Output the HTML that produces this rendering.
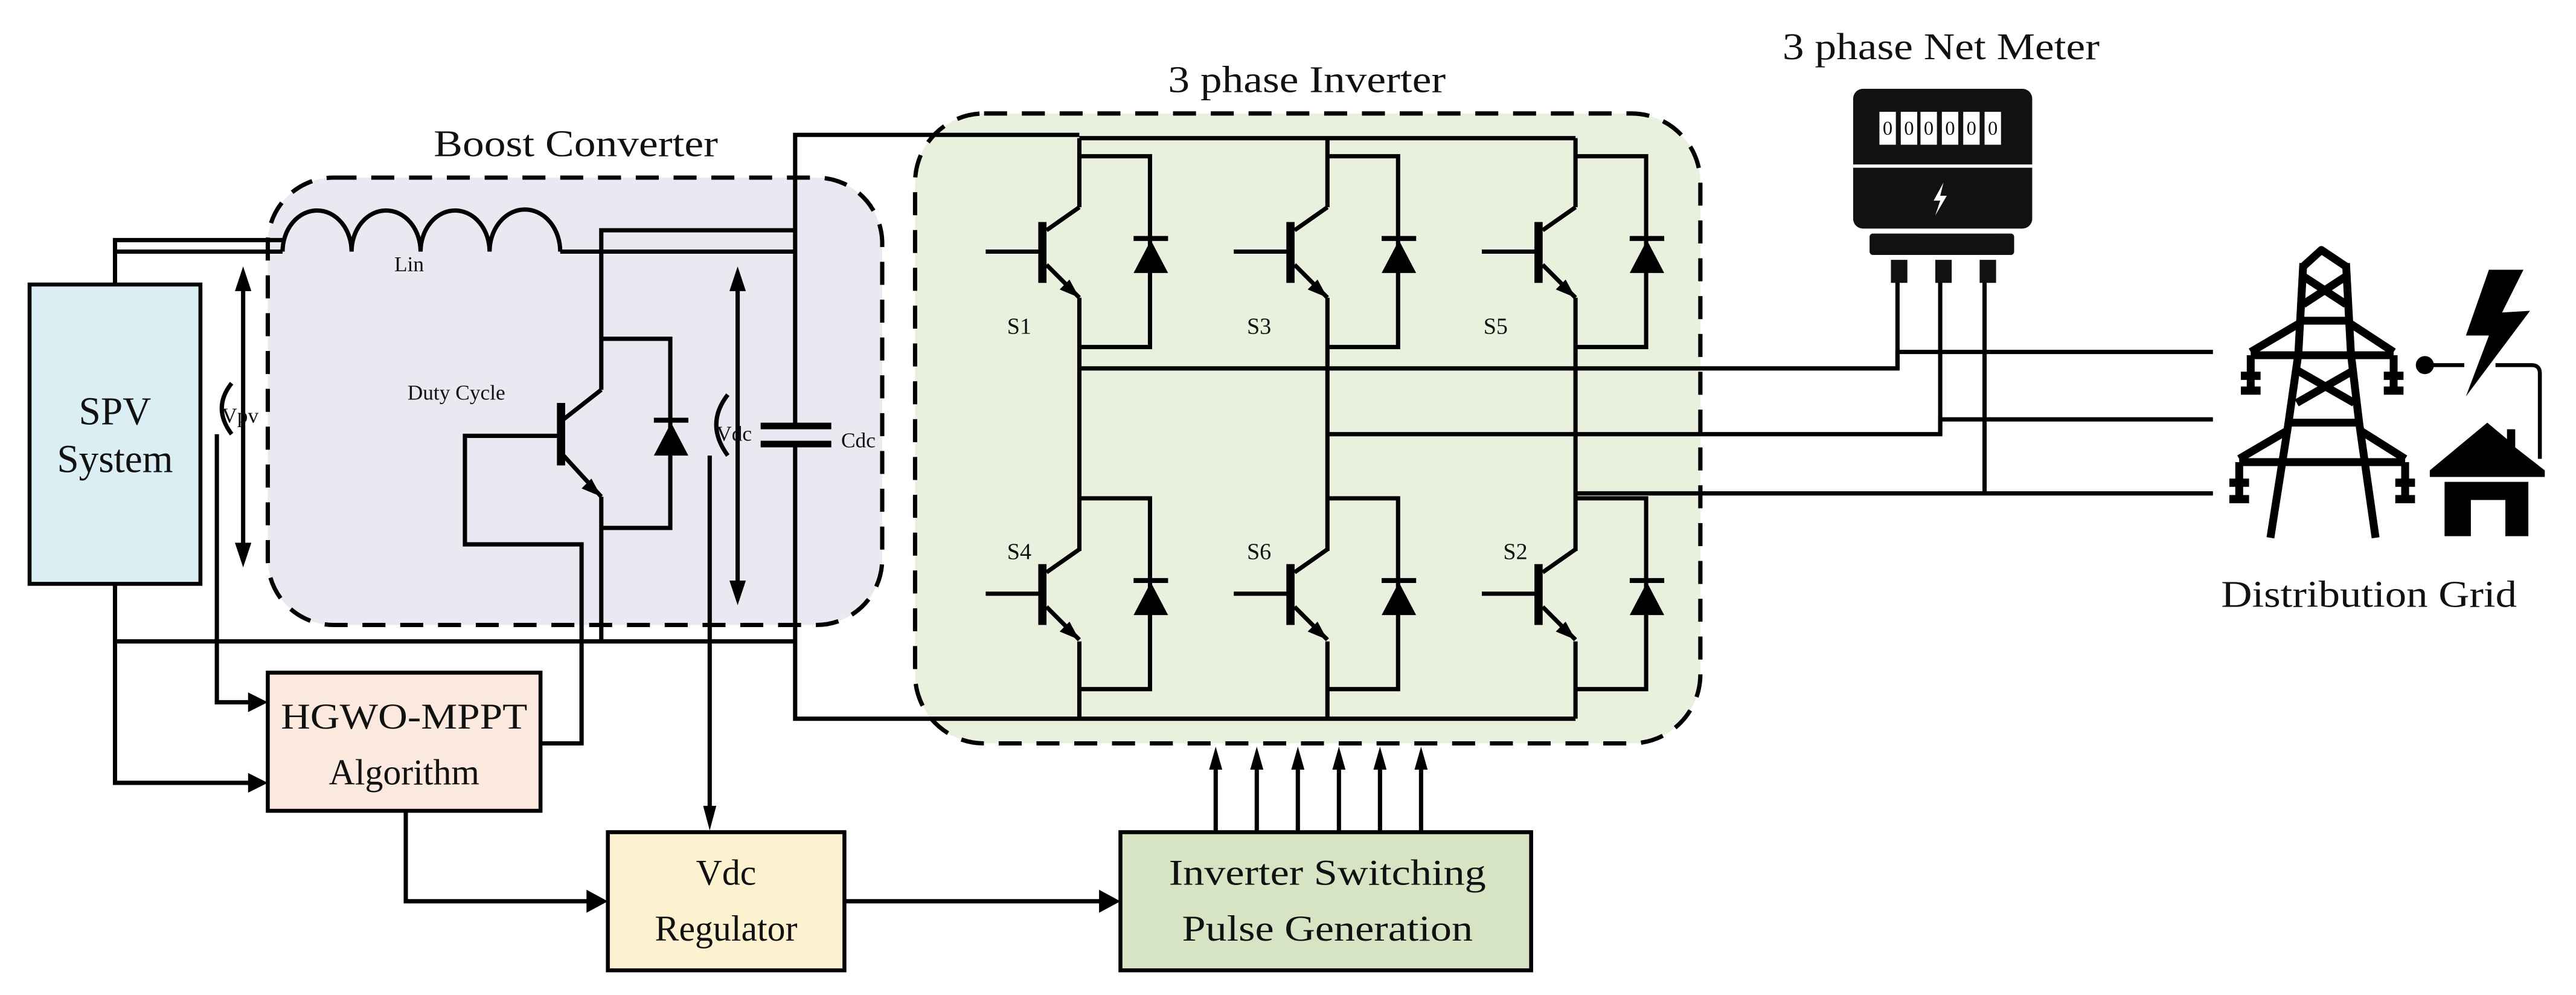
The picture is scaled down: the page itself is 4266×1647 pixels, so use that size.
<!DOCTYPE html>
<html><head><meta charset="utf-8"><style>
html,body{margin:0;padding:0;background:#fff;}
svg{display:block;}
text{font-family:"Liberation Serif",serif;fill:#111;}
</style></head><body>
<svg width="4266" height="1647" viewBox="0 0 1568 605" preserveAspectRatio="none" xmlns="http://www.w3.org/2000/svg">
<defs>
<g id="sw" fill="none" stroke="#000" stroke-width="2.6">
  <line x1="-20" y1="-13" x2="0" y2="-27"/>
  <rect x="-25" y="-18" width="5" height="37" fill="#000" stroke="none"/>
  <line x1="-57" y1="0" x2="-23" y2="0"/>
  <line x1="-20" y1="8" x2="0" y2="28"/>
  <polygon points="0,28 -12,23 -6,17" fill="#000" stroke="none"/>
  <polyline points="0,-58 43,-58 43,58 0,58"/>
  <line x1="33" y1="-8" x2="54" y2="-8" stroke-width="3"/>
  <polygon points="33,13 54,13 43.5,-7" fill="#000" stroke="none"/>
</g>
</defs>

<rect x="163" y="108" width="374" height="272" rx="40" fill="#ebe8f2" stroke="#000" stroke-width="2.6" stroke-dasharray="14 9"/>
<rect x="557" y="69" width="478" height="383" rx="42" fill="#e9f0de" stroke="#000" stroke-width="2.6" stroke-dasharray="14 9"/>

<text x="264" y="95" font-size="23" textLength="173" lengthAdjust="spacingAndGlyphs">Boost Converter</text>
<text x="711" y="56" font-size="23" textLength="169" lengthAdjust="spacingAndGlyphs">3 phase Inverter</text>
<text x="1085" y="36" font-size="23" textLength="193" lengthAdjust="spacingAndGlyphs">3 phase Net Meter</text>
<text x="1352" y="369" font-size="23" textLength="180" lengthAdjust="spacingAndGlyphs">Distribution Grid</text>

<rect x="18" y="173" width="104" height="182" fill="#dbeef4" stroke="#000" stroke-width="2.4"/>
<text x="70" y="258" font-size="24" text-anchor="middle">SPV</text>
<text x="70" y="287" font-size="24" text-anchor="middle">System</text>

<g fill="none" stroke="#000" stroke-width="2.6">
  <polyline points="70,173 70,146 172,146"/>
  <line x1="70" y1="153" x2="172" y2="153"/>
  <path d="M172,153 A21,25 0 0 1 214,153 A21,25 0 0 1 256,153 A21,25 0 0 1 298,153 A21,25 0 0 1 341,153"/>
  <line x1="341" y1="153" x2="484" y2="153"/>
  <polyline points="366,302 366,390"/>
  <polyline points="366,237 366,140 484,140"/>
  <polyline points="366,206 408,206 408,321 366,321"/>
  <line x1="343" y1="255" x2="366" y2="237"/>
  <line x1="343" y1="277" x2="366" y2="302"/>
  <polyline points="341,265 283,265 283,331 354,331 354,452 329,452"/>
  <polyline points="484,259 484,82 657,82"/>
  <polyline points="484,270 484,437 959,437"/>
  <line x1="657" y1="84" x2="959" y2="84"/>
  <polyline points="70,355 70,476 153,476"/>
  <line x1="70" y1="390" x2="484" y2="390"/>
  <polyline points="132,264 132,427 153,427"/>
  <line x1="432" y1="277" x2="432" y2="494"/>
  <line x1="148" y1="172" x2="148" y2="335"/>
  <line x1="449" y1="172" x2="449" y2="358"/>
  <path d="M141,233 Q129,248 141,264"/>
  <path d="M443,240 Q429,258 443,277"/>
  <polyline points="247,493 247,548 358,548"/>
  <line x1="514" y1="548" x2="671" y2="548"/>
  <line x1="657" y1="84" x2="657" y2="126"/><line x1="657" y1="181" x2="657" y2="335"/><line x1="657" y1="390" x2="657" y2="437"/>
  <line x1="808" y1="84" x2="808" y2="126"/><line x1="808" y1="181" x2="808" y2="335"/><line x1="808" y1="390" x2="808" y2="437"/>
  <line x1="959" y1="84" x2="959" y2="126"/><line x1="959" y1="181" x2="959" y2="335"/><line x1="959" y1="390" x2="959" y2="437"/>
  <polyline points="657,224 1155,224 1155,214 1347,214"/>
  <polyline points="808,264 1181,264 1181,255 1347,255"/>
  <line x1="959" y1="300" x2="1347" y2="300"/>
  <line x1="1155" y1="170" x2="1155" y2="224"/>
  <line x1="1181" y1="170" x2="1181" y2="264"/>
  <line x1="1208" y1="170" x2="1208" y2="300"/>
  <line x1="740" y1="466" x2="740" y2="506"/><line x1="765" y1="466" x2="765" y2="506"/>
  <line x1="790" y1="466" x2="790" y2="506"/><line x1="815" y1="466" x2="815" y2="506"/>
  <line x1="840" y1="466" x2="840" y2="506"/><line x1="865" y1="466" x2="865" y2="506"/>
</g>
<rect x="339" y="245" width="5" height="38" fill="#000"/>
<polygon points="366,302 354,297 360,291" fill="#000"/>
<rect x="398" y="254" width="21" height="3" fill="#000"/>
<polygon points="398,277 419,277 408.5,257" fill="#000"/>
<rect x="463" y="257" width="43" height="4" fill="#000"/>
<rect x="463" y="268" width="43" height="4" fill="#000"/>
<text x="512" y="272" font-size="13">Cdc</text>
<text x="135" y="257" font-size="13">Vpv</text>
<text x="436" y="268" font-size="13">Vdc</text>
<text x="240" y="165" font-size="13">Lin</text>
<text x="248" y="243" font-size="13">Duty Cycle</text>
<polygon points="148,162 143,177 153,177" fill="#000"/>
<polygon points="148,345 143,330 153,330" fill="#000"/>
<polygon points="449,162 444,177 454,177" fill="#000"/>
<polygon points="449,368 444,353 454,353" fill="#000"/>
<polygon points="163,427 151,421 151,433" fill="#000"/>
<polygon points="163,476 151,470 151,482" fill="#000"/>
<polygon points="432,505 428,490 436,490" fill="#000"/>
<polygon points="370,548 357,541 357,555" fill="#000"/>
<polygon points="682,548 669,541 669,555" fill="#000"/>
<g fill="#000">
<polygon points="740,454 736,468 744,468"/><polygon points="765,454 761,468 769,468"/>
<polygon points="790,454 786,468 794,468"/><polygon points="815,454 811,468 819,468"/>
<polygon points="840,454 836,468 844,468"/><polygon points="865,454 861,468 869,468"/>
</g>

<use href="#sw" x="657" y="153"/><use href="#sw" x="808" y="153"/><use href="#sw" x="959" y="153"/>
<use href="#sw" x="657" y="361"/><use href="#sw" x="808" y="361"/><use href="#sw" x="959" y="361"/>
<g font-size="14">
<text x="613" y="203">S1</text><text x="759" y="203">S3</text><text x="903" y="203">S5</text>
<text x="613" y="340">S4</text><text x="759" y="340">S6</text><text x="915" y="340">S2</text>
</g>

<rect x="163" y="409" width="166" height="84" fill="#fbe8de" stroke="#000" stroke-width="2.4"/>
<text x="246" y="443" font-size="22" text-anchor="middle" textLength="150" lengthAdjust="spacingAndGlyphs">HGWO-MPPT</text>
<text x="246" y="477" font-size="22" text-anchor="middle">Algorithm</text>
<rect x="370" y="506" width="144" height="84" fill="#fdf2cf" stroke="#000" stroke-width="2.4"/>
<text x="442" y="538" font-size="22" text-anchor="middle">Vdc</text>
<text x="442" y="572" font-size="22" text-anchor="middle">Regulator</text>
<rect x="682" y="506" width="250" height="84" fill="#d7e4c4" stroke="#000" stroke-width="2.4"/>
<text x="808" y="538" font-size="22" text-anchor="middle" textLength="193" lengthAdjust="spacingAndGlyphs">Inverter Switching</text>
<text x="808" y="572" font-size="22" text-anchor="middle" textLength="177" lengthAdjust="spacingAndGlyphs">Pulse Generation</text>

<rect x="1128" y="54" width="109" height="85" rx="6" fill="#111"/>
<line x1="1128" y1="101" x2="1237" y2="101" stroke="#fff" stroke-width="2"/>
<g fill="#fff"><rect x="1144" y="68" width="10" height="20"/><rect x="1157" y="68" width="10" height="20"/><rect x="1169" y="68" width="10" height="20"/><rect x="1182" y="68" width="10" height="20"/><rect x="1195" y="68" width="10" height="20"/><rect x="1208" y="68" width="10" height="20"/></g>
<g font-size="12" text-anchor="middle" fill="#111"><text x="1149" y="82">0</text><text x="1162" y="82">0</text><text x="1174" y="82">0</text><text x="1187" y="82">0</text><text x="1200" y="82">0</text><text x="1213" y="82">0</text></g>
<polygon points="1183,111 1177,122 1181,122 1178,131 1185,119 1181,119" fill="#fff"/>
<rect x="1138" y="142" width="88" height="13" rx="2" fill="#111"/>
<rect x="1151" y="158" width="10" height="14" fill="#111"/><rect x="1178" y="158" width="10" height="14" fill="#111"/><rect x="1205" y="158" width="10" height="14" fill="#111"/>

<g fill="none" stroke="#000" stroke-width="4.8" stroke-linejoin="round">
  <polyline points="1402,162 1413,152 1428,162"/>
  <polyline points="1402,160 1399,215 1393,257 1382,327"/>
  <polyline points="1428,160 1431,215 1436,257 1446,327"/>
  <line x1="1402" y1="168" x2="1428" y2="185"/><line x1="1428" y1="168" x2="1402" y2="185"/>
  <line x1="1400" y1="195" x2="1430" y2="195"/>
  <line x1="1370" y1="216" x2="1457" y2="216"/>
  <line x1="1370" y1="214" x2="1399" y2="197"/><line x1="1457" y1="214" x2="1431" y2="197"/>
  <line x1="1398" y1="225" x2="1433" y2="245"/><line x1="1433" y1="225" x2="1398" y2="245"/>
  <line x1="1394" y1="257" x2="1436" y2="257"/>
  <line x1="1363" y1="281" x2="1464" y2="281"/>
  <line x1="1363" y1="279" x2="1392" y2="262"/><line x1="1464" y1="279" x2="1437" y2="262"/>
  <line x1="1370" y1="216" x2="1370" y2="238"/><line x1="1457" y1="216" x2="1457" y2="238"/>
  <line x1="1363" y1="281" x2="1363" y2="304"/><line x1="1464" y1="281" x2="1464" y2="304"/>
</g>
<g fill="#000">
<rect x="1364" y="226" width="12" height="5"/><rect x="1364" y="235" width="12" height="5"/>
<rect x="1451" y="226" width="12" height="5"/><rect x="1451" y="235" width="12" height="5"/>
<rect x="1357" y="291" width="12" height="5"/><rect x="1357" y="301" width="12" height="5"/>
<rect x="1458" y="291" width="12" height="5"/><rect x="1458" y="301" width="12" height="5"/>
</g>
<polygon points="1515,164 1536,164 1523,190 1540,189 1501,241 1515,204 1501,204" fill="#000"/>
<circle cx="1476" cy="222" r="5.5" fill="#000"/>
<line x1="1476" y1="222" x2="1500" y2="222" stroke="#000" stroke-width="2.4"/>
<path d="M1519,222 H1541 Q1546,222 1546,227 V279" fill="none" stroke="#000" stroke-width="2.4"/>
<polygon points="1479,286 1514,257 1526,267 1526,261 1531,261 1531,272 1549,286 1549,290 1479,290" fill="#000"/>
<path d="M1488,293 H1539 V326 H1525 V304 H1504 V326 H1488 Z" fill="#000"/>
</svg>
</body></html>
